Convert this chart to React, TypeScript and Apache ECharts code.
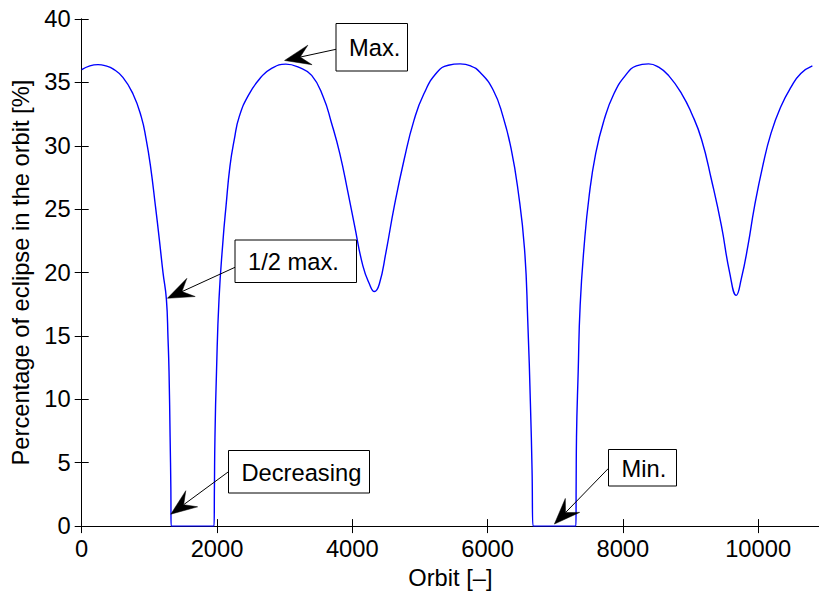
import React, { useEffect, useRef } from "react";
import * as echarts from "echarts";

// Orbit number (x) and percentage of eclipse in the orbit (y)
const orbit = [
  0, 120, 241, 360, 462, 609, 757, 880, 953, 1017, 1091, 1148, 1202, 1252, 1276, 1291, 1307, 1318, 1322,
  1956, 1962, 1970, 1993, 2030, 2090, 2133, 2192, 2256, 2329, 2477, 2649, 2796, 3017,
  3205, 3400, 3571, 3693, 3815, 3937, 4034, 4156, 4254, 4327, 4400, 4498, 4620, 4766, 4912,
  5059, 5254, 5420, 5595, 5750, 5888, 6083, 6229, 6351, 6449, 6546, 6595, 6634, 6658, 6673,
  7306, 7310, 7315, 7340, 7369, 7428, 7501, 7599, 7721, 7868, 8039, 8200, 8381, 8530, 8675,
  8870, 9017, 9164, 9311, 9457, 9579, 9677, 9751, 9849, 9946, 10068, 10191, 10337, 10484,
  10631, 10802,
];
const eclipse = [
  36.0, 36.3, 36.4, 36.3, 36.07, 35.4, 34.1, 32.3, 30.5, 28.4, 25.2, 22.6, 20.0, 17.9, 14.8, 12.2, 7.0, 3.0, 0,
  0, 3.0, 7.0, 12.2, 17.9, 22.6, 25.2, 28.4, 30.5, 32.3, 34.1, 35.4, 36.07, 36.44,
  36.2, 35.55, 33.85, 31.8, 29.4, 26.3, 23.7, 20.55, 19.1, 18.5, 19.1, 21.6, 25.2, 28.9, 32.0,
  34.1, 35.8, 36.35, 36.46, 36.3, 35.8, 34.4, 32.3, 29.7, 26.55, 21.9, 16.1, 9.6, 4.4, 0,
  0, 3.5, 7.0, 12.2, 17.4, 22.1, 26.0, 29.4, 32.0, 34.1, 35.55, 36.3, 36.46, 36.2, 35.55,
  34.1, 32.55, 30.5, 27.3, 23.7, 20.0, 18.2, 19.5, 22.1, 25.2, 28.4, 31.0, 33.1, 34.6,
  35.7, 36.3,
];

// Axis ranges / tick steps
const xRange = [0, 10900];
const xStep = 2000;
const yRange = [0, 40];
const yStep = 5;

const xTitle = "Orbit [–]";
const yTitle = "Percentage of eclipse in the orbit [%]";

// Annotation labels and the data points their arrows point to
const noteLabels = ["Max.", "1/2 max.", "Decreasing", "Min."];
const noteTips = [
  [2999, 36.73],
  [1267, 17.97],
  [1317, 0.94],
  [6988, 0.16],
];

// Layout of annotation boxes (pixels): x, y, w, h ; arrow tail (pixels)
const noteBoxes = [
  [336, 23.5, 71.5, 47.5],
  [235, 240, 121.5, 42.5],
  [228.5, 450.5, 141, 42.5],
  [608.5, 449.5, 68, 36.5],
];
const noteTails = [
  [336, 49.3],
  [235, 267.3],
  [228.5, 471.7],
  [608.5, 468.3],
];

const FONT = "Liberation Sans";
const FS = 23.7;

export default function App() {
  const ref = useRef<HTMLDivElement>(null);

  useEffect(() => {
    if (!ref.current) return;
    const chart = echarts.init(ref.current, null, { renderer: "svg" });
    const pxPerX = 0.06835;
    const gridLeft = 81.7;
    const gridTop = 19;
    const gridHeight = 510.3;
    const gridWidth = (xRange[1] - xRange[0]) * pxPerX;

    const axisLine = { show: true, lineStyle: { color: "#000", width: 1 } };
    const tick = { show: true, inside: true, length: 7, lineStyle: { color: "#000", width: 1 } };
    const label = {
      color: "#000",
      fontSize: FS,
      fontFamily: FONT,
      formatter: (v: number) => String(v),
    };

    chart.setOption({
      animation: false,
      backgroundColor: "#fff",
      grid: { left: gridLeft, top: gridTop, width: gridWidth, height: gridHeight },
      xAxis: [
        {
          type: "value",
          min: xRange[0],
          max: xRange[1],
          interval: xStep,
          position: "bottom",
          axisLine,
          axisTick: tick,
          splitLine: { show: false },
          axisLabel: { ...label, margin: 11, showMaxLabel: false },
          name: xTitle,
          nameLocation: "middle",
          nameGap: 38,
          nameTextStyle: { color: "#000", fontSize: FS, fontFamily: FONT },
        },
        {
          type: "value",
          min: xRange[0],
          max: xRange[1],
          interval: xStep,
          position: "top",
          axisLine,
          axisTick: tick,
          splitLine: { show: false },
          axisLabel: { show: false },
        },
      ],
      yAxis: [
        {
          type: "value",
          min: yRange[0],
          max: yRange[1],
          interval: yStep,
          position: "left",
          axisLine,
          axisTick: tick,
          splitLine: { show: false },
          axisLabel: { ...label, margin: 11 },
          name: yTitle,
          nameLocation: "middle",
          nameGap: 44,
          nameTextStyle: { color: "#000", fontSize: FS, fontFamily: FONT },
        },
        {
          type: "value",
          min: yRange[0],
          max: yRange[1],
          interval: yStep,
          position: "right",
          axisLine,
          axisTick: tick,
          splitLine: { show: false },
          axisLabel: { show: false },
        },
      ],
      series: [
        {
          type: "line",
          data: orbit.map((o, i) => [o, eclipse[i]]),
          showSymbol: false,
          smooth: 0.5,
          lineStyle: { color: "#0000ff", width: 1.4 },
          z: 5,
        },
      ],
    });

    const elements: any[] = [];
    noteLabels.forEach((text, i) => {
      const tip = chart.convertToPixel({ seriesIndex: 0 }, noteTips[i]) as number[];
      const [tx, ty] = tip;
      const [lx, ly] = noteTails[i];
      const dx = lx - tx;
      const dy = ly - ty;
      const len = Math.sqrt(dx * dx + dy * dy);
      const ux = dx / len;
      const uy = dy / len;
      const nx = -uy;
      const ny = ux;
      const L = 26;
      const W = 10;
      const N = 16;
      elements.push({
        type: "line",
        shape: { x1: lx, y1: ly, x2: tx + ux * N, y2: ty + uy * N },
        style: { stroke: "#000", lineWidth: 1 },
        z: 10,
      });
      elements.push({
        type: "polygon",
        shape: {
          points: [
            [tx, ty],
            [tx + ux * L + nx * W, ty + uy * L + ny * W],
            [tx + ux * N, ty + uy * N],
            [tx + ux * L - nx * W, ty + uy * L - ny * W],
          ],
        },
        style: { fill: "#000", stroke: "#000", lineWidth: 0.5 },
        z: 10,
      });
      const [bx, by, bw, bh] = noteBoxes[i];
      elements.push({
        type: "rect",
        shape: { x: bx, y: by, width: bw, height: bh },
        style: { fill: "#fff", stroke: "#000", lineWidth: 1 },
        z: 11,
      });
      elements.push({
        type: "text",
        x: bx + 13,
        y: by + bh / 2 + 1,
        style: {
          text,
          fill: "#000",
          fontSize: FS,
          fontFamily: FONT,
          align: "left",
          verticalAlign: "middle",
        },
        z: 12,
      });
    });
    chart.setOption({ graphic: elements });

    return () => chart.dispose();
  }, []);

  return (
    <div
      ref={ref}
      style={{ position: "absolute", left: 0, top: 0, width: 819, height: 595, background: "#fff" }}
    />
  );
}
